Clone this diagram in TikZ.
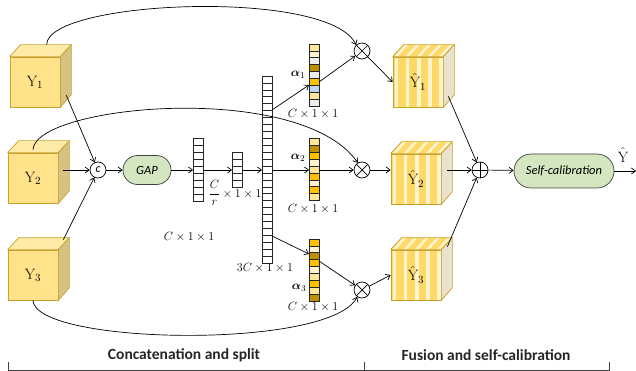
\documentclass[tikz,border=0pt]{standalone}
\usepackage{fontspec}
\usepackage{amsmath}
\usepackage{bm}
\newfontfamily\carlito{Carlito}
\usetikzlibrary{arrows.meta,calc}
\definecolor{ybord}{HTML}{C9A12B}
\definecolor{yfront}{HTML}{FFE28A}
\definecolor{ytop}{HTML}{FFEBA8}
\definecolor{yside}{HTML}{D6C283}
\definecolor{hgold}{HTML}{FFD966}
\definecolor{hstripe}{HTML}{FFF4D0}
\definecolor{hside}{HTML}{EAE2CC}
\definecolor{gfill}{HTML}{D3E6BF}
\definecolor{cA}{HTML}{FFE699}
\definecolor{cB}{HTML}{FFF2CC}
\definecolor{cC}{HTML}{BF9000}
\definecolor{cD}{HTML}{FFC000}
\definecolor{cE}{HTML}{EDEDED}
\definecolor{cF}{HTML}{BDD7EE}
\tikzset{
  arr/.style={-{Straight Barb[length=4pt,width=6pt]}, line width=0.7pt},
  cell/.style={draw=black!85, line width=0.6pt},
  barbox/.style={rectangle, minimum width=10, inner sep=0, outer sep=0},
  ycube/.style={rectangle, draw=ybord, fill=yfront, line width=0.7pt, minimum width=50, minimum height=50, inner sep=0, font=\fontsize{15}{18}\selectfont},
  hcube/.style={ycube, fill=hgold, path picture={
      \foreach \o in {1.5,12.5,24,35,46}{\fill[hstripe] ([xshift=\o pt]path picture bounding box.south west) rectangle ++(3.5pt,60pt);}}},
  circ/.style={circle, draw, line width=0.7pt, minimum size=16, inner sep=0, fill=white},
  otimes/.style={circ, path picture={
      \draw[line width=0.7pt] (path picture bounding box.north west)--(path picture bounding box.south east)
        (path picture bounding box.north east)--(path picture bounding box.south west);}},
  oplus/.style={circ, path picture={
      \draw[line width=0.7pt] (path picture bounding box.north)--(path picture bounding box.south)
        (path picture bounding box.east)--(path picture bounding box.west);}},
  pill/.style={rectangle, draw=black!75, fill=gfill, line width=0.7pt, font=\carlito\itshape\fontsize{12.5}{14}\selectfont},
  dimlab/.style={font=\fontsize{11.5}{13}\selectfont, inner sep=0},
  alab/.style={font=\fontsize{13}{15}\selectfont, inner sep=0},
  seclab/.style={font=\carlito\bfseries\fontsize{15.5}{18}\selectfont, text=black!85},
}
\begin{document}
\begin{tikzpicture}[x=1pt,y=-1pt]
\useasboundingbox (0,0) rectangle (636,371);
% input cubes
\node[ycube] (Y1) at (35,82) {$\mathrm{Y}_1$};
\node[ycube] (Y2) at (33,178) {$\mathrm{Y}_2$};
\node[ycube] (Y3) at (33,275) {$\mathrm{Y}_3$};
\foreach \n in {Y1,Y2,Y3}{
  \filldraw[fill=ytop,draw=ybord,line width=0.7pt,line join=round] (\n.north west) -- (\n.north east) -- ++(11,-12) -- ($(\n.north west)+(11,-12)$) -- cycle;
  \filldraw[fill=yside,draw=ybord,line width=0.7pt,line join=round] (\n.north east) -- ++(11,-12) -- ++(0,50) -- (\n.south east) -- cycle;
}
% output cubes
\node[hcube] (H1) at (418,82) {$\hat{\mathrm{Y}}_1$};
\node[hcube] (H2) at (416,179) {$\hat{\mathrm{Y}}_2$};
\node[hcube] (H3) at (416,275) {$\hat{\mathrm{Y}}_3$};
\foreach \n in {H1,H2,H3}{
  \begin{scope}
    \clip (\n.north west) -- (\n.north east) -- ++(11,-12) -- ($(\n.north west)+(11,-12)$) -- cycle;
    \fill[hgold] (\n.north west) -- (\n.north east) -- ++(11,-12) -- ($(\n.north west)+(11,-12)$) -- cycle;
    \foreach \o in {1.5,12.5,24,35,46}{
      \fill[hstripe] ($(\n.north west)+(\o,0)$) -- ++(3.5,0) -- ++(11,-12) -- ++(-3.5,0) -- cycle;}
  \end{scope}
  \draw[draw=ybord,line width=0.7pt,line join=round] (\n.north west) -- (\n.north east) -- ++(11,-12) -- ($(\n.north west)+(11,-12)$) -- cycle;
  \filldraw[fill=hside,draw=ybord,line width=0.7pt,line join=round] (\n.north east) -- ++(11,-12) -- ++(0,50) -- (\n.south east) -- cycle;
}
% concat, GAP
\node[circ, font=\carlito\itshape\fontsize{12}{14}\selectfont] (c) at (98,170) {c};
\node[pill, rounded corners=14.5, minimum width=48, minimum height=29, inner sep=0] (gap) at (147,170) {GAP};
% bars
\node[barbox, minimum height=63] (b1) at (198,169.5) {};
\node[barbox, minimum height=35] (b2) at (237,169.5) {};
\node[barbox, minimum height=187] (big) at (267,169.5) {};
\node[barbox, minimum height=62.1] (a1) at (314,75) {};
\node[barbox, minimum height=62.1] (a2) at (314,169.5) {};
\node[barbox, minimum height=62.1] (a3) at (314,270) {};
\foreach \i in {0,...,8} \filldraw[cell,fill=white] ($(b1.north west)+(0,\i*7)$) rectangle ++(10,7);
\foreach \i in {0,...,4} \filldraw[cell,fill=white] ($(b2.north west)+(0,\i*7)$) rectangle ++(10,7);
\foreach \i in {0,...,26} \filldraw[cell,fill=white] ($(big.north west)+(0,\i*6.926)$) rectangle ++(10,6.926);
\foreach \col [count=\i from 0] in {cA,cB,cE,cC,cE,cD,cF,cA,cE}
  \filldraw[cell,fill=\col] ($(a1.north west)+(0,\i*6.9)$) rectangle ++(10,6.9);
\foreach \col [count=\i from 0] in {cA,cC,cD,cB,cA,cD,cB,cD,cA}
  \filldraw[cell,fill=\col] ($(a2.north west)+(0,\i*6.9)$) rectangle ++(10,6.9);
\foreach \col [count=\i from 0] in {cD,cB,cC,cD,cB,cA,cD,cA,cC}
  \filldraw[cell,fill=\col] ($(a3.north west)+(0,\i*6.9)$) rectangle ++(10,6.9);
% labels
\node[alab] (la1) at (298,75) {$\bm{\alpha}_1$};
\node[alab] (la2) at (298,158) {$\bm{\alpha}_2$};
\node[alab] (la3) at (299,288) {$\bm{\alpha}_3$};
\node[dimlab] (d1) at (313,114) {$C\times1\times1$};
\node[dimlab] (d2) at (313,209) {$C\times1\times1$};
\node[dimlab] (d3) at (313,307) {$C\times1\times1$};
\node[dimlab] (dr) at (235,193) {$\dfrac{C}{r}\times1\times1$};
\node[dimlab] (dc) at (189,237) {$C\times1\times1$};
\node[dimlab] (d3c) at (265,268) {$3C\times1\times1$};
% multiply / add
\node[otimes] (m1) at (362,51) {};
\node[otimes] (m2) at (362,170) {};
\node[otimes] (m3) at (362,290) {};
\node[oplus] (p) at (480,170) {};
\node[pill, rounded corners=17, minimum width=100, minimum height=34, inner sep=0] (sc) at (564,171) {Self-calibration};
\coordinate (out) at (636,171);
\node[font=\fontsize{15}{18}\selectfont, inner sep=0] (yh) at (623,155) {$\hat{\mathrm{Y}}$};
% connectors
\draw[arr] ($(Y1.south east)+(6,-12)$) -- (c);
\draw[arr] ($(Y2.east)+(5,-8)$) -- (c.west);
\draw[arr] ($(Y3.north east)+(5,-10)$) -- (c);
\draw[arr] (c) -- (gap);
\draw[arr] (gap) -- (b1.west |- gap);
\draw[arr] (b1.east |- gap) -- (b2.west |- gap);
\draw[arr] (b2.east |- gap) -- (big.west |- gap);
\draw[arr] ($(big.north east)+(0,34)$) -- ($(a1.west)+(0,10)$);
\draw[arr] (big.east |- gap) -- (a2.west |- gap);
\draw[arr] ($(big.north east)+(0,160)$) -- ($(a3.west)+(0,-16)$);
\draw[arr] ($(a1.east)+(0,7)$) -- (m1);
\draw[arr] (a2.east |- m2) -- (m2);
\draw[arr] ($(a3.east)+(0,-9)$) -- (m3);
\draw[arr] ($(Y1.north west)+(37,-12)$) .. controls (47,0) and (330,-12) .. (m1.135);
\draw[arr] ($(Y2.north)+(0,-3)$) .. controls (35,105) and (300,80) .. (m2.120);
\draw[arr] (Y3.south) .. controls (35,345) and (330,350) .. (m3.235);
\draw[arr] (m1) -- (H1.west);
\draw[arr] (m2) -- ($(H2.west)+(0,-9)$);
\draw[arr] (m3) -- (H3.west);
\draw[arr] ($(H1.south east)+(5,-11)$) -- (p);
\draw[arr] ($(H2.east)+(6,-9)$) -- (p);
\draw[arr] ($(H3.north east)+(6,-3)$) -- (p);
\draw[arr] (p) -- (sc);
\draw[arr] (sc) -- (out);
% bottom brackets
\coordinate (t1) at (8,362);
\coordinate (t2) at (364,362);
\coordinate (t3) at (609,362);
\draw[black!75, line width=0.8pt] (t1) -- ++(0,8.3) -| (t3);
\draw[black!75, line width=0.8pt] (t2) -- ++(0,8.3);
\node[seclab] (s1) at (184,355) {Concatenation and split};
\node[seclab] (s2) at (486,355) {Fusion and self-calibration};
\end{tikzpicture}
\end{document}
